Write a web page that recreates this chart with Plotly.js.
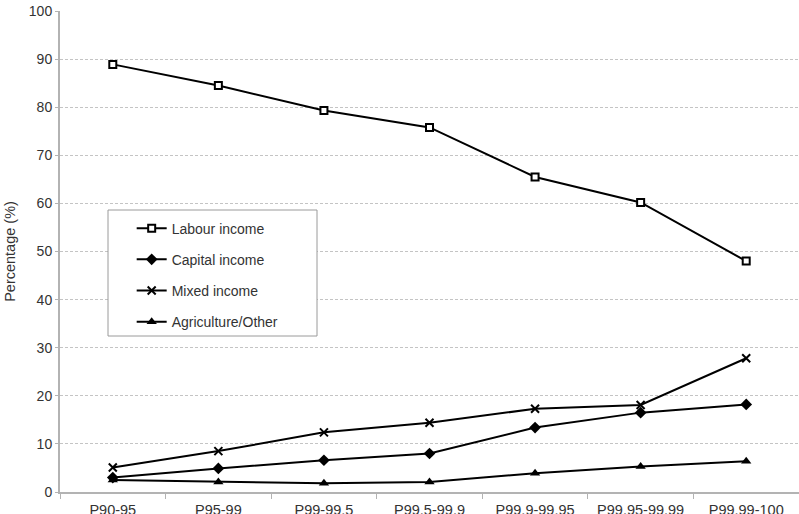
<!DOCTYPE html>
<html>
<head>
<meta charset="utf-8">
<script src="https://cdn.plot.ly/plotly-3.0.1.min.js"></script>
<style>
  html, body { margin: 0; padding: 0; background: #fff; }
  #chart { width: 799px; height: 514px; }
</style>
</head>
<body>
<div id="chart"></div>
<script>
// Income groups (top-decile fractiles)
const categories = ["P90-95", "P95-99", "P99-99.5", "P99.5-99.9", "P99.9-99.95", "P99.95-99.99", "P99.99-100"];

// Share of each income source, in percent
const labourIncome  = [88.9, 84.5, 79.3, 75.8, 65.5, 60.2, 48.0];
const capitalIncome = [3.0, 4.9, 6.6, 8.0, 13.4, 16.5, 18.2];
const mixedIncome   = [5.1, 8.5, 12.4, 14.4, 17.3, 18.1, 27.8];
const agricultureOther = [2.5, 2.1, 1.8, 2.1, 3.9, 5.3, 6.4];

const seriesNames = ["Labour income", "Capital income", "Mixed income", "Agriculture/Other"];

const font = "Liberation Sans, Arial, Helvetica, sans-serif";

function series(name, values, symbol, size, fill, mline, group) {
  return {
    type: "scatter",
    mode: "lines+markers",
    name: name,
    legendgroup: group,
    x: categories,
    y: values,
    line: { color: "#000", width: 2 },
    marker: {
      symbol: symbol,
      size: size,
      color: fill,
      line: { color: "#000", width: mline }
    },
    cliponaxis: false
  };
}

const traces = [
  series(seriesNames[0], labourIncome, "square", 7, "#fff", 2, "g1"),
  series(seriesNames[1], capitalIncome, "diamond", 9, "#000", 0, "g2"),
  series(seriesNames[2], mixedIncome, "x-thin", 8, "#000", 2, "g3"),
  series(seriesNames[3], agricultureOther, "triangle-up", 9, "#000", 0, "g4")
];

const layout = {
  width: 799,
  height: 514,
  margin: { l: 60, r: 0, t: 11, b: 22 },
  paper_bgcolor: "#fff",
  plot_bgcolor: "#fff",
  font: { family: font, size: 14, color: "#333" },
  showlegend: true,
  legend: {
    x: 0.097, y: 0.581, xanchor: "left", yanchor: "top",
    bgcolor: "rgba(0,0,0,0)",
    borderwidth: 0,
    tracegroupgap: 10,
    itemwidth: 30,
    font: { family: font, size: 14, color: "#333" }
  },
  // legend frame, wider than the entries themselves
  shapes: [{
    type: "rect",
    xref: "paper", yref: "paper",
    x0: 48 / 739, x1: 257 / 739,
    y0: (492 - 336) / 481, y1: (492 - 210) / 481,
    line: { color: "#9a9a9a", width: 1 },
    fillcolor: "#fff",
    layer: "above"
  }],
  xaxis: {
    type: "category",
    range: [-0.5, 6.5],
    showline: true,
    linecolor: "#b3b3b3",
    linewidth: 2,
    ticks: "outside",
    tickson: "boundaries",
    ticklen: 5,
    tickcolor: "#b3b3b3",
    tickwidth: 1,
    ticklabelstandoff: 4,
    showgrid: false,
    zeroline: false,
    tickfont: { family: font, size: 14.5, color: "#333" }
  },
  yaxis: {
    range: [0, 100],
    dtick: 10,
    showline: true,
    linecolor: "#b3b3b3",
    linewidth: 2,
    ticks: "outside",
    ticklen: 3,
    tickcolor: "#b3b3b3",
    showgrid: true,
    gridcolor: "#c4c4c4",
    griddash: "3px,2px",
    gridwidth: 1,
    zeroline: false,
    tickfont: { family: font, size: 14, color: "#333" },
    title: { text: "Percentage (%)", standoff: 10, font: { family: font, size: 14.5, color: "#333" } }
  }
};

Plotly.newPlot("chart", traces, layout, { displayModeBar: false, staticPlot: true });
</script>
</body>
</html>
